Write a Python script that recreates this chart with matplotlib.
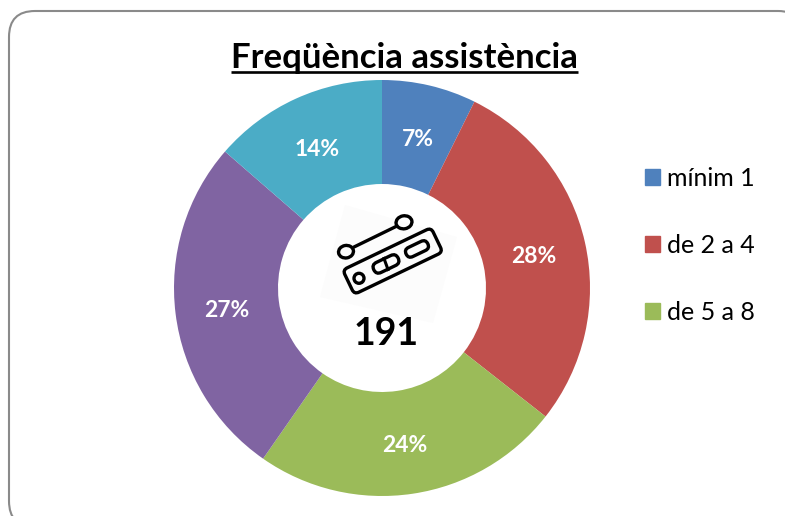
import matplotlib
matplotlib.use("Agg")
import numpy as np
import matplotlib.pyplot as plt
from matplotlib.patches import FancyBboxPatch, Circle, Ellipse, Polygon, Patch
from matplotlib.transforms import Affine2D

W, H = 785, 516
categories = ["mínim 1", "de 2 a 4", "de 5 a 8", "de 9 a 12", "més de 12"]
counts = [14, 54, 46, 51, 26]
pct_labels = ["7%", "28%", "24%", "27%", "14%"]
colors = ["#4F81BD", "#C0504D", "#9BBB59", "#8064A2", "#4BACC6"]
legend_shown = 3
total_label = "191"
title = "Freqüència assistència"

plt.rcParams["font.family"] = ["Lato", "DejaVu Sans"]
fig = plt.figure(figsize=(W / 100, H / 100), dpi=100)
ax = fig.add_axes([0, 0, 1, 1])

def Y(py):
    return H - py

# chart frame, running off the right and bottom edges
ax.add_patch(FancyBboxPatch((9, Y(527)), 795, 516, boxstyle="round,pad=0,rounding_size=26",
                            fc="white", ec="#8A8A8A", lw=1.5, zorder=0))

cx, cy, R = 382, Y(288), 208
wedges, _ = ax.pie(counts, colors=colors, startangle=90, counterclock=False, center=(cx, cy),
                   radius=R, wedgeprops=dict(width=R * 0.5, lw=0))
for w, lab in zip(wedges, pct_labels):
    a = np.deg2rad((w.theta1 + w.theta2) / 2)
    ax.text(cx + R * 0.75 * np.cos(a), cy + R * 0.75 * np.sin(a) - 3, lab, color="white",
            fontsize=16.5, fontweight="bold", ha="center", va="center", zorder=5)

ax.set_xlim(0, W)
ax.set_ylim(0, H)
ax.set_aspect("auto")
ax.axis("off")

ax.text(404.5, Y(58), title, fontsize=25, fontweight="bold", ha="center", va="center", color="black")
ax.plot([231, 578], [Y(71.5), Y(71.5)], color="black", lw=1.9, solid_capstyle="butt")
ax.text(386, Y(334), total_label, fontsize=27, fontweight="bold", ha="center", va="center", color="black", zorder=9)

leg = ax.legend(handles=[Patch(color=c) for c in colors[:legend_shown]], labels=categories[:legend_shown],
                loc="upper left", bbox_to_anchor=(645 / W, 1 - 167 / H), frameon=False, fontsize=18,
                handlelength=0.6, handleheight=0.6, handletextpad=0.27, labelspacing=1.76, borderpad=0, borderaxespad=0)

# icon, drawn in pixel coordinates of the figure
ang = 25.6
def rot(x, y):
    return Affine2D().rotate_deg_around(x, Y(y), ang) + ax.transData
ic = dict(fc="none", ec="black", lw=2.4, zorder=8)
ax.add_patch(Polygon([(320, Y(297)), (345, Y(205)), (457, Y(237)), (433, Y(323))], fc="#FCFCFC", ec="none", zorder=7))
ax.add_patch(FancyBboxPatch((392.7 - 49, Y(261) - 13.5), 98, 27, boxstyle="round,pad=0,rounding_size=5",
                            transform=rot(392.7, 261), **ic))
ax.add_patch(Circle((359, Y(278.3)), 5, **ic))
ax.add_patch(FancyBboxPatch((378, Y(264)), 16, 0.1, boxstyle="round,pad=5.5,rounding_size=5.5",
                            transform=rot(386, 264), **ic))
ax.plot([384, 388], [Y(258.5), Y(269.5)], color="black", lw=2.2, zorder=8)
ax.add_patch(FancyBboxPatch((410, Y(249)), 14, 0.1, boxstyle="round,pad=5,rounding_size=5",
                            transform=rot(417, 249), **ic))
ax.add_patch(Ellipse((346, Y(251.7)), 15, 12.5, angle=10, **ic))
ax.add_patch(Ellipse((404, Y(222.3)), 16, 13, angle=10, **ic))
ax.plot([354, 396], [Y(247), Y(226.5)], color="black", lw=2.4, zorder=8, solid_capstyle="round")

fig.savefig("out.png", dpi=100)
